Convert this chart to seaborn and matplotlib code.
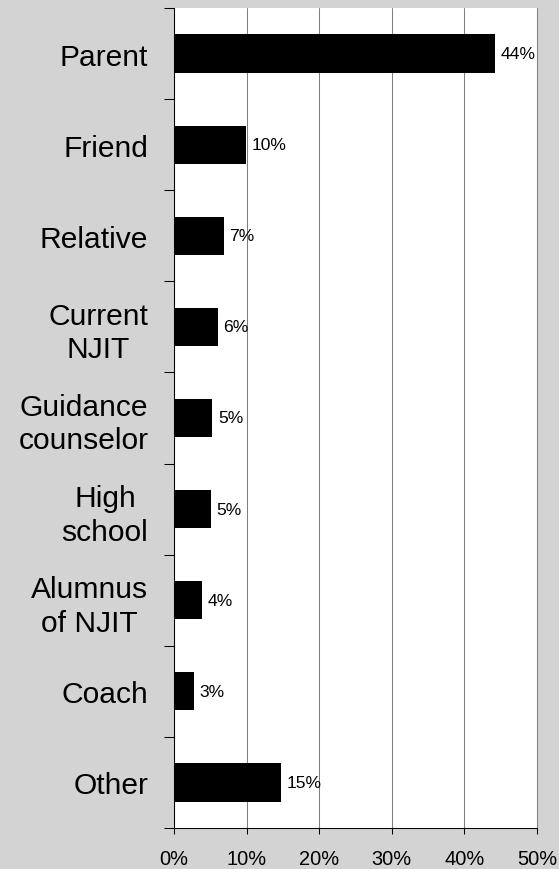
import numpy as np
import matplotlib
matplotlib.use("Agg")
import matplotlib.pyplot as plt
import seaborn as sns

categories = ["Parent", "Friend", "Relative", "Current\nNJIT", "Guidance\ncounselor",
              "High\nschool", "Alumnus\nof NJIT", "Coach", "Other"]
values = [44.2, 9.9, 6.85, 6.07, 5.3, 5.07, 3.88, 2.74, 14.8]
value_labels = ["44%", "10%", "7%", "6%", "5%", "5%", "4%", "3%", "15%"]
x_ticks = [0, 10, 20, 30, 40, 50]
x_tick_labels = ["0%", "10%", "20%", "30%", "40%", "50%"]

sns.set_style("white")
plt.rcParams['font.family'] = ['Liberation Sans', 'DejaVu Sans']
plt.rcParams['text.color'] = 'black'
plt.rcParams['xtick.color'] = 'black'
plt.rcParams['ytick.color'] = 'black'
plt.rcParams['xtick.labelcolor'] = 'black'
plt.rcParams['ytick.labelcolor'] = 'black'

fig = plt.figure(figsize=(5.59, 8.70), dpi=100, facecolor="#D3D3D3")
ax = fig.add_axes([174/559, 1 - 829/870, (537 - 174)/559, (829 - 9)/870])
ax.set_facecolor("white")

sns.barplot(x=values, y=categories, orient="h", color="black", saturation=1,
            width=0.42, linewidth=0, ax=ax, zorder=3)

ax.bar_label(ax.containers[0], labels=value_labels, padding=4, fontsize=12.6, color="black")

ax.set_xlim(0, 50)
ax.set_ylim(8.5, -0.5)
ax.set_xticks(x_ticks)
ax.set_xticklabels(x_tick_labels, fontsize=14.4, color="black")
ax.set_yticks(range(len(categories)))
ax.set_yticklabels(categories, fontsize=21.6, linespacing=1.25, color="black")
for lbl in ax.get_yticklabels():
    lbl.set_multialignment("center")
ax.set_yticks(np.arange(-0.5, len(categories), 1), minor=True)

ax.tick_params(axis="y", which="major", length=0, pad=18.5)
ax.tick_params(axis="y", which="minor", length=7.2, width=0.75, color="black", direction="out", left=True)
ax.tick_params(axis="x", which="major", length=4.5, width=0.75, color="black", direction="out", bottom=True, pad=10.5)

ax.set_axisbelow(True)
ax.xaxis.grid(True, color="#7F7F7F", linewidth=0.75)
ax.yaxis.grid(False)
for g in ax.xaxis.get_gridlines():
    g.set_clip_on(False)

for s in ["top", "right"]:
    ax.spines[s].set_visible(False)
for s in ["left", "bottom"]:
    ax.spines[s].set_visible(True)
    ax.spines[s].set_color("black")
    ax.spines[s].set_linewidth(0.75)
    ax.spines[s].set_zorder(4)

ax.set_xlabel("")
ax.set_ylabel("")

fig.savefig("out.png", dpi=100, facecolor=fig.get_facecolor())
